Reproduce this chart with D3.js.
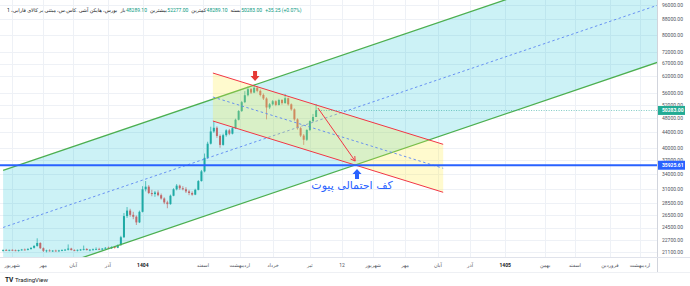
<!DOCTYPE html>
<html>
<head>
<meta charset="utf-8">
<style>
  body { margin: 0; background: #fff; }
  svg text { font-family: Roboto, "DejaVu Sans", sans-serif; }
  .grid line { stroke: #eef1f6; stroke-width: 1; }
  .ytick { fill: #50535e; font-size: 5px; }
  .xtick { fill: #50535e; font-size: 5px; }
  .hdr { font-size: 5px; }
</style>
</head>
<body>
<div id="chart"></div>
<script src="https://cdn.jsdelivr.net/npm/d3@7/dist/d3.min.js"></script>
<script>
// candles: [open, high, low, close]
var bars = [
  [21300, 21450, 21150, 21350], [21350, 21500, 21250, 21300], [21300, 21400, 21200, 21380],
  [21380, 21450, 21250, 21320], [21320, 21420, 21200, 21250], [21250, 21400, 21150, 21350],
  [21350, 21500, 21280, 21420], [21420, 21550, 21300, 21380], [21380, 21600, 21300, 21500],
  [21500, 21700, 21400, 21650], [21650, 22000, 21550, 21900], [21900, 22950, 21800, 22300],
  [22300, 22400, 21500, 21600], [21600, 21700, 21100, 21250], [21250, 21400, 21050, 21300],
  [21300, 21450, 21150, 21200], [21200, 21350, 21100, 21280], [21280, 21400, 21150, 21220],
  [21220, 21380, 21100, 21300], [21300, 21450, 21200, 21350], [21350, 21500, 21250, 21400],
  [21400, 22100, 21300, 21550], [21550, 21650, 21300, 21350], [21350, 21450, 21200, 21300],
  [21300, 21420, 21180, 21380], [21380, 21500, 21250, 21420], [21420, 21950, 21300, 21500],
  [21500, 21600, 21300, 21350], [21350, 21480, 21200, 21400], [21400, 21550, 21280, 21450],
  [21450, 21700, 21350, 21500], [21500, 21650, 21350, 21420], [21420, 21600, 21300, 21550],
  [21550, 21750, 21450, 21650], [21650, 21800, 21500, 21580], [21580, 21850, 21500, 21750],
  [21750, 21900, 21550, 21650], [21650, 22100, 21600, 22000], [22000, 23300, 21950, 23100],
  [23100, 26800, 23000, 26300], [26300, 27800, 26000, 27200], [27200, 27500, 26200, 26500],
  [26500, 27000, 25800, 26200], [26200, 26400, 24900, 25300], [25300, 27200, 25200, 27000],
  [27000, 31600, 26900, 31000], [31000, 32600, 30600, 31500], [31500, 31800, 30100, 30300],
  [30300, 30900, 29700, 30100], [30100, 30700, 29600, 30400], [30400, 30800, 29700, 29900],
  [29900, 30200, 29100, 29300], [29300, 29500, 28300, 28600], [28600, 28900, 27600, 28300],
  [28300, 30000, 28200, 29800], [29800, 31200, 29700, 31000], [31000, 32000, 30800, 31700],
  [31700, 31900, 30900, 31200], [31200, 31600, 30800, 31000], [31000, 31400, 30300, 30600],
  [30600, 30900, 29900, 30300], [30300, 30600, 29800, 30000], [30000, 31100, 29900, 30900],
  [30900, 32800, 30800, 32600], [32600, 34900, 32500, 34600], [34600, 38600, 34400, 37600],
  [37600, 41500, 37400, 41000], [41000, 45500, 40800, 44200], [44200, 47000, 43800, 45200],
  [45200, 45600, 42500, 43000], [43000, 43400, 40000, 40700], [40700, 43600, 40500, 43200],
  [43200, 44800, 42800, 44500], [44500, 44900, 43200, 43600], [43600, 45400, 43400, 45100],
  [45100, 47800, 44900, 47500], [47500, 50400, 47300, 50100], [50100, 53300, 49800, 52900],
  [52900, 56600, 52600, 55200], [55200, 58200, 54800, 57300], [57300, 57700, 55600, 56100],
  [56100, 58600, 55900, 57800], [57800, 58300, 56200, 56700], [56700, 57200, 54800, 55300],
  [55300, 55800, 53600, 54100], [54100, 54500, 47600, 51200], [51200, 52600, 50700, 52200],
  [52200, 53600, 51800, 53200], [53200, 53500, 51600, 52000], [52000, 54000, 51800, 53600],
  [53600, 53900, 52100, 52600], [52600, 55600, 52400, 54200], [54200, 54400, 51800, 52200],
  [52200, 52500, 50200, 50600], [50600, 50900, 47200, 47600], [47600, 47900, 44700, 45100],
  [45100, 45500, 42700, 43100], [43100, 43500, 40700, 42000], [42000, 44800, 41700, 44600],
  [44600, 47300, 44300, 47100], [47100, 49200, 46800, 48289.1], [48289.1, 52277, 48289.1, 50283]
];

var yTicks = [96000, 88000, 80000, 72000, 67000, 62000, 56000, 52000, 48000, 44000,
              40000, 37000, 34000, 31000, 28500, 26500, 24500, 22700, 21100];

var monthLabels = ["شهریور", "مهر", "آبان", "آذر", "1404", "اسفند", "اردیبهشت", "خرداد", "تیر", "12",
                   "شهریور", "مهر", "آبان", "آذر", "1405", "بهمن", "اسفند", "فروردین", "اردیبهشت"];
var monthAt = [2.9, 12.9, 22.6, 33.8, 45.1, 64.5, 76.4, 87.1, 99.0, 109.4,
               119.4, 129.7, 140.3, 150.7, 162.0, 174.9, 184.5, 195.8, 205.5];

var lastPrice = 50283.00;
var pivotLevel = 35925.61;

// drawings, anchors as [bar index, price]; third point sets the parallel line
var bigChannel = [[76.4, 57000], [157.8, 96400], [76.4, 28300]];
var redChannel = [[67.7, 63250], [142.0, 40850], [67.7, 47120]];
var peakMark = [81.3, 60230];
var pivotMark = [114.2, 35100];
var moveArrow = [[101.6, 51030], [113.6, 36860]];
var noteAt = [112.6, 31100];
var noteText = "کف احتمالی پیوت";

var titleText = "بورس، هایکن آشی .کاس.س، مبتنی بر کالای فارابی، 1";
var legendLabels = ["باز", "بیشترین", "کمترین", "بسته"];
var legendValues = ["48289.10", "52277.00", "48289.10", "50283.00"];
var changeText = "+35.25 (+0.07%)";

(function () {
  var
    W      = 690,
    H      = 286,
    plotW  = 657,
    plotH  = 257,
    UP     = '#26a69a',
    DOWN   = '#ef5350';

  var x = d3.scaleLinear().domain([-1, 211]).range([0, plotW]);
  var y = d3.scaleLog().domain([21100, 96000]).range([252, 5]);

  var svg = d3.select('#chart').append('svg')
    .attr('width', W)
    .attr('height', H);

  svg.append('rect').attr('width', W).attr('height', H).attr('fill', '#fff');

  // grid
  var grid = svg.append('g').attr('class', 'grid');
  grid.selectAll('.h').data(yTicks).enter().append('line')
    .attr('x1', 0).attr('x2', plotW)
    .attr('y1', function (d) { return Math.round(y(d)) + 0.5; })
    .attr('y2', function (d) { return Math.round(y(d)) + 0.5; });
  grid.selectAll('.v').data(monthAt).enter().append('line')
    .attr('y1', 0).attr('y2', plotH)
    .attr('x1', function (d) { return Math.round(x(d)) + 0.5; })
    .attr('x2', function (d) { return Math.round(x(d)) + 0.5; });

  svg.append('clipPath').attr('id', 'plot')
    .append('rect').attr('width', plotW).attr('height', plotH);
  var plot = svg.append('g').attr('clip-path', 'url(#plot)');

  // candles
  var cw = 2;
  var candle = plot.selectAll('.c').data(bars).enter().append('g');
  candle.append('line')
    .attr('x1', function (d, i) { return x(i); })
    .attr('x2', function (d, i) { return x(i); })
    .attr('y1', function (d) { return y(d[1]); })
    .attr('y2', function (d) { return y(d[2]); })
    .attr('stroke', function (d) { return d[3] >= d[0] ? UP : DOWN; })
    .attr('stroke-width', 0.7);
  candle.append('rect')
    .attr('x', function (d, i) { return x(i) - cw / 2; })
    .attr('width', cw)
    .attr('y', function (d) { return y(Math.max(d[0], d[3])); })
    .attr('height', function (d) { return Math.max(0.8, Math.abs(y(d[0]) - y(d[3]))); })
    .attr('fill', function (d) { return d[3] >= d[0] ? UP : DOWN; });

  // straight line in log space through two anchors
  function lineAt(a, b, i) {
    var t = (i - a[0]) / (b[0] - a[0]);
    return Math.exp(Math.log(a[1]) + t * (Math.log(b[1]) - Math.log(a[1])));
  }

  function drawChannel(c, i0, i1, fill, edge, edgeW) {
    var a = c[0], b = c[1],
        k = c[2][1] / lineAt(a, b, c[2][0]),
        top = function (i) { return lineAt(a, b, i); },
        bot = function (i) { return lineAt(a, b, i) * k; },
        mid = function (i) { return lineAt(a, b, i) * Math.sqrt(k); };
    var pts = [[i0, top(i0)], [i1, top(i1)], [i1, bot(i1)], [i0, bot(i0)]];
    plot.append('polygon')
      .attr('points', pts.map(function (p) { return x(p[0]) + ',' + y(p[1]); }).join(' '))
      .attr('fill', fill);
    [top, bot].forEach(function (f) {
      plot.append('line')
        .attr('x1', x(i0)).attr('y1', y(f(i0)))
        .attr('x2', x(i1)).attr('y2', y(f(i1)))
        .attr('stroke', edge).attr('stroke-width', edgeW);
    });
    plot.append('line')
      .attr('x1', x(i0)).attr('y1', y(mid(i0)))
      .attr('x2', x(i1)).attr('y2', y(mid(i1)))
      .attr('stroke', '#5c87f2').attr('stroke-width', 0.9)
      .attr('stroke-dasharray', '2.5,2.5');
  }

  drawChannel(bigChannel, 0, 212, 'rgba(0,188,212,0.2)', '#4caf50', 1.3);
  drawChannel(redChannel, redChannel[0][0], redChannel[1][0], 'rgba(255,235,59,0.25)', '#f23645', 1);

  // pivot level
  plot.append('line')
    .attr('x1', 0).attr('x2', plotW)
    .attr('y1', y(pivotLevel)).attr('y2', y(pivotLevel))
    .attr('stroke', '#2962ff').attr('stroke-width', 2);

  // last price line
  plot.append('line')
    .attr('x1', x(bars.length - 1)).attr('x2', plotW)
    .attr('y1', Math.round(y(lastPrice)) + 0.5).attr('y2', Math.round(y(lastPrice)) + 0.5)
    .attr('stroke', UP).attr('stroke-width', 0.6)
    .attr('stroke-dasharray', '1,1.5');

  // move arrow
  var ax1 = x(moveArrow[0][0]), ay1 = y(moveArrow[0][1]),
      ax2 = x(moveArrow[1][0]), ay2 = y(moveArrow[1][1]),
      ang = Math.atan2(ay2 - ay1, ax2 - ax1);
  plot.append('line')
    .attr('x1', ax1).attr('y1', ay1).attr('x2', ax2).attr('y2', ay2)
    .attr('stroke', '#f23645').attr('stroke-width', 1);
  plot.append('polyline')
    .attr('points', [ang + 2.6, null, ang - 2.6].map(function (t) {
      if (t === null) return ax2 + ',' + ay2;
      return (ax2 + 5 * Math.cos(t)) + ',' + (ay2 + 5 * Math.sin(t));
    }).join(' '))
    .attr('fill', 'none').attr('stroke', '#f23645').attr('stroke-width', 1);

  // block arrows
  function blockArrow(p, dir, color) {
    var px = x(p[0]), py = y(p[1]), s = -dir;
    var pts = [[0, 0], [-4.5, 5], [-2, 5], [-2, 10], [2, 10], [2, 5], [4.5, 5]];
    plot.append('polygon')
      .attr('points', pts.map(function (q) { return (px + q[0]) + ',' + (py + s * q[1]); }).join(' '))
      .attr('fill', color);
  }
  blockArrow(peakMark, 1, '#e53935');
  blockArrow(pivotMark, -1, '#2962ff');

  plot.append('text')
    .attr('x', x(noteAt[0])).attr('y', y(noteAt[1]))
    .attr('text-anchor', 'middle')
    .attr('fill', '#2962ff')
    .style('font-size', '11px')
    .style('font-family', '"DejaVu Sans", sans-serif')
    .text(noteText);

  // frame lines
  svg.append('line').attr('x1', plotW + 0.5).attr('x2', plotW + 0.5).attr('y1', 0).attr('y2', 272)
    .attr('stroke', '#d1d4dc').attr('stroke-width', 1);
  svg.append('line').attr('x1', 0).attr('x2', W).attr('y1', plotH + 0.5).attr('y2', plotH + 0.5)
    .attr('stroke', '#e0e3eb').attr('stroke-width', 1);
  svg.append('line').attr('x1', 0).attr('x2', W).attr('y1', 272.5).attr('y2', 272.5)
    .attr('stroke', '#eef0f4').attr('stroke-width', 1);

  // price scale
  svg.selectAll('.ytick').data(yTicks).enter().append('text')
    .attr('class', 'ytick')
    .attr('x', 662)
    .attr('y', function (d) { return y(d) + 1.8; })
    .text(function (d) { return d3.format('.2f')(d); });

  function priceTag(v, color, label) {
    svg.append('rect')
      .attr('x', plotW + 1).attr('y', y(v) - 4.5)
      .attr('width', 27).attr('height', 9)
      .attr('fill', color);
    svg.append('text')
      .attr('x', 662).attr('y', y(v) + 1.8)
      .attr('fill', '#fff')
      .style('font-size', '5px')
      .style('font-weight', 'bold')
      .text(label);
  }
  priceTag(lastPrice, '#22ab94', d3.format('.2f')(lastPrice));
  priceTag(pivotLevel, '#2962ff', d3.format('.2f')(pivotLevel));

  // time scale
  svg.selectAll('.xtick').data(monthLabels).enter().append('text')
    .attr('class', 'xtick')
    .attr('x', function (d, i) { return x(monthAt[i]); })
    .attr('y', 267)
    .attr('text-anchor', 'middle')
    .style('font-weight', function (d) { return /^\d{4}$/.test(d) ? 'bold' : 'normal'; })
    .style('fill', function (d) { return /^\d{4}$/.test(d) ? '#131722' : null; })
    .text(function (d) { return d; });

  // legend row
  var cx = 7;
  var title = svg.append('text')
    .attr('class', 'hdr')
    .attr('x', 0)
    .attr('y', 12)
    .attr('fill', '#131722')
    .attr('direction', 'rtl')
    .text(titleText);
  var bb = title.node().getBBox();
  title.attr('x', cx - bb.x);
  cx += bb.width + 3;
  legendLabels.forEach(function (lab, i) {
    var t = svg.append('text').attr('class', 'hdr').attr('x', cx).attr('y', 12)
      .attr('fill', '#131722').text(lab);
    cx += t.node().getComputedTextLength() + 0.5;
    var v = svg.append('text').attr('class', 'hdr').attr('x', cx).attr('y', 12)
      .attr('fill', '#089981').text(legendValues[i]);
    cx += v.node().getComputedTextLength() + 3;
  });
  svg.append('text').attr('class', 'hdr').attr('x', cx).attr('y', 12)
    .attr('fill', '#089981').text(changeText);

  // logo
  svg.append('text').attr('x', 5).attr('y', 282)
    .attr('fill', '#131722')
    .style('font-size', '6.5px').style('font-weight', 'bold')
    .text('TV');
  svg.append('text').attr('x', 15).attr('y', 282)
    .attr('fill', '#131722')
    .style('font-size', '6px')
    .text('TradingView');
})();
</script>
</body>
</html>
